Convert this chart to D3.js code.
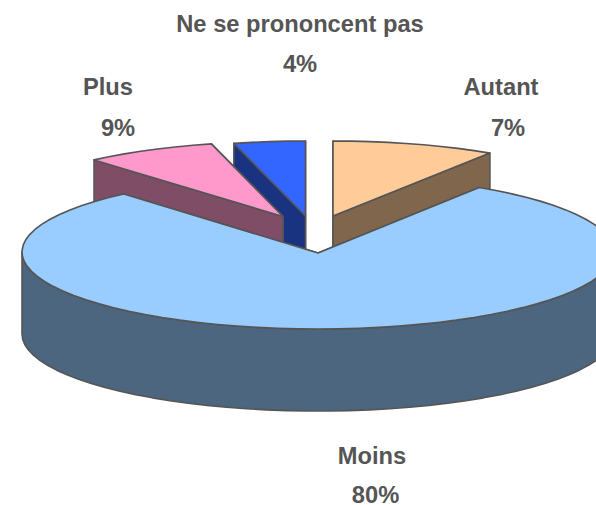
<!DOCTYPE html>
<html>
<head>
<meta charset="utf-8">
<script src="https://cdn.jsdelivr.net/npm/d3@7/dist/d3.min.js"></script>
<style>
html,body{margin:0;padding:0;background:#fff;overflow:hidden}
svg{display:block}
text{font-family:"Liberation Sans",Arial,sans-serif;font-weight:bold;font-size:23.7px;fill:#555555;text-anchor:middle}
</style>
</head>
<body>
<svg id="chart" width="596" height="505"></svg>
<script>
// Data: slice order clockwise from 12 o'clock
const categories = ["Autant", "Moins", "Plus", "Ne se prononcent pas"];
const percentLabels = ["7%", "80%", "9%", "4%"];
// Share of the circle each slice occupies as drawn in the picture
const drawnShares = [9.17, 79.44, 7.39, 4.0];
const topColors = ["#FFCC99", "#99CCFF", "#FF99CC", "#3366FF"];
const wallColors = ["#80664D", "#4D667F", "#804D66", "#1A3380"];

// Layout
const W = 596, H = 505;
const depth = 82;
const bigRadius = {rx: 296, ry: 77};
const smallRadius = {rx: 288, ry: 75};
const centers = [[333, 216], [318, 252], [283, 216.5], [305.5, 216]];
const apexes = [[333, 216], [318, 253], [283, 216.5], [305.5, 216]];
const labelPos = [
  {name: [501, 95], pct: [508, 136]},
  {name: [372, 464], pct: [375.5, 503]},
  {name: [108, 95], pct: [118, 136]},
  {name: [300, 32], pct: [300, 72]}
];
const drawOrder = [3, 0, 2, 1];

const svg = d3.select("#chart");
const pie = d3.pie().sort(null).startAngle(0).endAngle(2 * Math.PI);
const arcs = pie(drawnShares);
const line = d3.line();
const closed = pts => line(pts) + "Z";
const stroke = "#555555";

function project(i, a, dz) {
  const R = i === 1 ? bigRadius : smallRadius;
  const [cx, cy] = centers[i];
  return [cx + R.rx * Math.sin(a), cy - R.ry * Math.cos(a) + (dz || 0)];
}
function arcPts(i, a0, a1, dz) {
  const n = Math.max(2, Math.ceil((a1 - a0) / (4 * Math.PI / 180)));
  return d3.range(n + 1).map(k => project(i, a0 + (a1 - a0) * k / n, dz));
}

const fillShape = (d, fill) => svg.append("path")
  .attr("d", d).attr("fill", fill).attr("stroke", stroke)
  .attr("stroke-width", 1.6).attr("stroke-linejoin", "round");

drawOrder.forEach(i => {
  const s = arcs[i];
  const apex = apexes[i];
  const apexLow = [apex[0], apex[1] + depth];
  // radial walls, back one first
  [s.startAngle, s.endAngle]
    .sort((a, b) => project(i, a)[1] - project(i, b)[1])
    .forEach(a => {
      fillShape(closed([apex, project(i, a), project(i, a, depth), apexLow]), wallColors[i]);
    });
  // outer wall, only where it faces the viewer
  const a0 = Math.max(s.startAngle, Math.PI / 2);
  const a1 = Math.min(s.endAngle, 3 * Math.PI / 2);
  if (a1 > a0) {
    const upper = arcPts(i, a0, a1, 0);
    const lower = arcPts(i, a0, a1, depth).reverse();
    fillShape(closed(upper.concat(lower)), wallColors[i]);
  }
  // top face
  fillShape(closed([apex].concat(arcPts(i, s.startAngle, s.endAngle, 0))), topColors[i]);
});

categories.forEach((c, i) => {
  svg.append("text").attr("x", labelPos[i].name[0]).attr("y", labelPos[i].name[1]).text(c);
  svg.append("text").attr("x", labelPos[i].pct[0]).attr("y", labelPos[i].pct[1]).text(percentLabels[i]);
});
</script>
</body>
</html>
